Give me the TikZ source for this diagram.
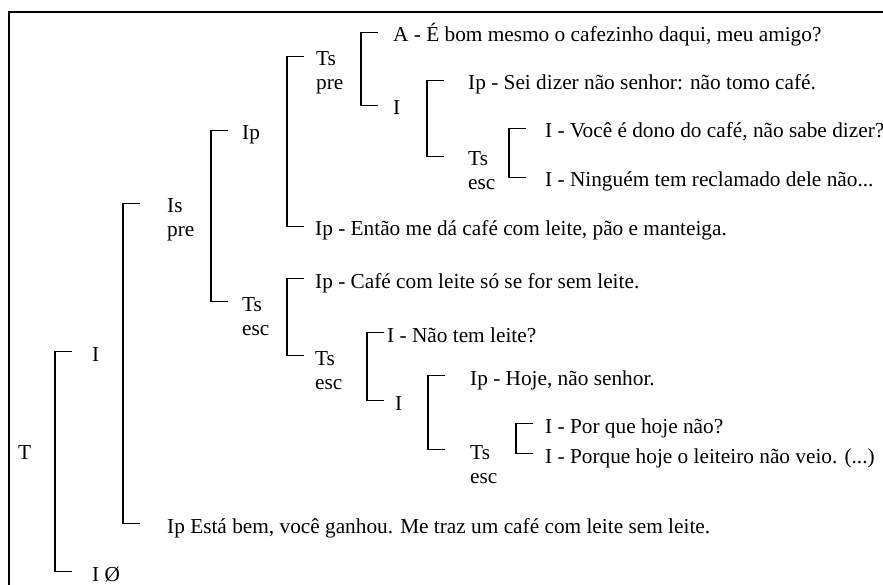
\documentclass[tikz,border=0pt]{standalone}
\usepackage{fontspec}
\setmainfont{Liberation Serif}
\begin{document}
\begin{tikzpicture}[x=1pt,y=-1pt,
    lbl/.style={anchor=base west, inner sep=0pt, text height=19pt, text depth=0pt,
        font=\fontsize{21.3}{25}\selectfont},
    brak/.style={line width=1.2pt},
    frame/.style={line width=2pt}]
    \useasboundingbox (0,0) rectangle (883,585);
    \draw[frame] (884,12) -- (9,12) -- (9,586);

    % levels, left to right
    \node[lbl] (t) at (18,459) {T};
    \node[lbl] (i1) at (92,361) {I};
    \node[lbl] (inull) at (92,581) {I Ø};
    \node[lbl] (is1) at (167,213) {Is};
    \node[lbl] (is1b) at (167,237) {pre};
    \node[lbl] (ipfim) at (167,533) {Ip Está bem, você ganhou. Me traz um café com leite sem leite.};
    \node[lbl] (ip2) at (242,140) {Ip};
    \node[lbl] (ts2) at (242,311) {Ts};
    \node[lbl] (ts2b) at (242,335) {esc};
    \node[lbl] (tspre) at (316,66) {Ts};
    \node[lbl] (tspreb) at (316,90) {pre};
    \node[lbl] (ipentao) at (315,236) {Ip - Então me dá café com leite, pão e manteiga.};
    \node[lbl] (ipcafe) at (315,288) {Ip - Café com leite só se for sem leite.};
    \node[lbl] (ts3) at (315,365) {Ts};
    \node[lbl] (ts3b) at (315,389) {esc};
    \node[lbl] (aebom) at (393,42) {A - É bom mesmo o cafezinho daqui, meu amigo?};
    \node[lbl] (i4) at (393,115) {I};
    \node[lbl] (ipsei) at (468,90) {Ip - Sei dizer não senhor: não tomo café.};
    \node[lbl] (ts5) at (468,166) {Ts};
    \node[lbl] (ts5b) at (468,190) {esc};
    \node[lbl] (ivoce) at (545,138) {I - Você é dono do café, não sabe dizer?};
    \node[lbl] (ininguem) at (545,187) {I - Ninguém tem reclamado dele não...};
    \node[lbl] (inao) at (387,342) {I - Não tem leite?};
    \node[lbl] (i5) at (395,410) {I};
    \node[lbl] (iphoje) at (470,385) {Ip - Hoje, não senhor.};
    \node[lbl] (ts6) at (470,459) {Ts};
    \node[lbl] (ts6b) at (470,483) {esc};
    \node[lbl] (ipor) at (545,433) {I - Por que hoje não?};
    \node[lbl] (iporque) at (545,463) {I - Porque hoje o leiteiro não veio. (...)};

    % brackets
    \foreach \vx/\a/\b in {55/i1/inull, 123/is1/ipfim, 211/ip2/ts2, 287/tspre/ipentao,
        361/aebom/i4, 427/ipsei/ts5, 509/ivoce/ininguem, 287/ipcafe/ts3,
        367/inao/i5, 428/iphoje/ts6, 516/ipor/iporque}
        \draw[brak] (\a.west -| \vx+16.5,0) -| (\vx,0 |- \b.west) -- (\b.west -| \vx+16.5,0);
\end{tikzpicture}
\end{document}
